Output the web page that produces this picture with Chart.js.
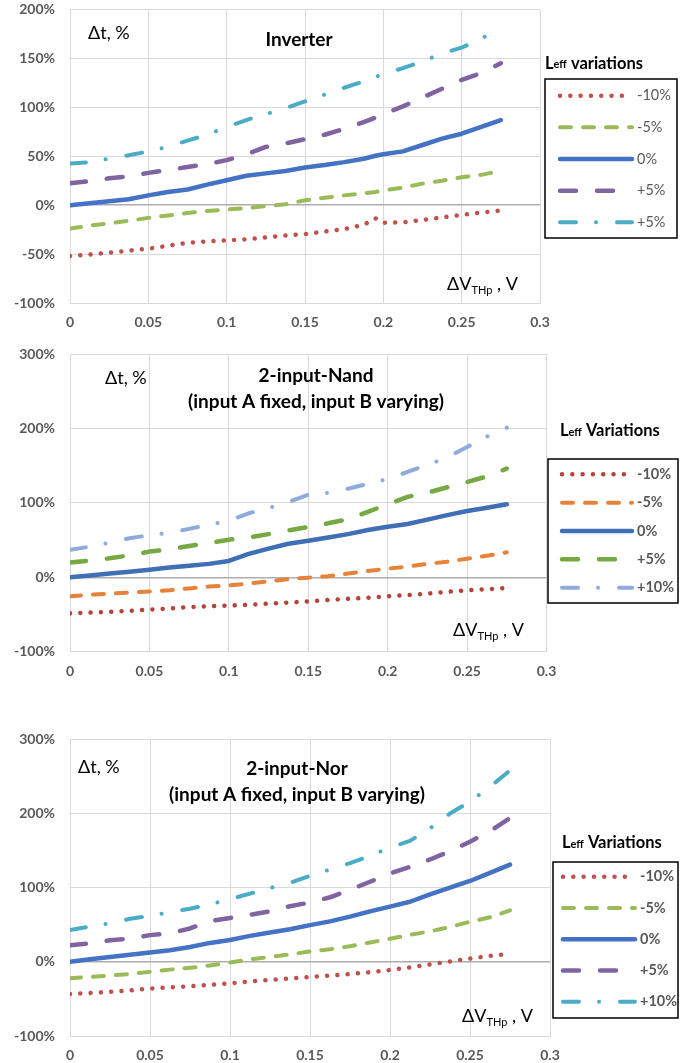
<!DOCTYPE html>
<html>
<head>
<meta charset="utf-8">
<title>Delay variation vs threshold shift</title>
<script src="https://cdn.jsdelivr.net/npm/chart.js@4"></script>
<style>
  html, body { margin: 0; padding: 0; background: #fff; }
  body { width: 688px; height: 1063px; position: relative; overflow: hidden; }
  canvas { position: absolute; left: 0; }
</style>
</head>
<body>
<canvas id="inv" width="688" height="340" style="top:0px"></canvas>
<canvas id="nand" width="688" height="345" style="top:340px"></canvas>
<canvas id="nor" width="688" height="340" style="top:723px"></canvas>

<script>
/* ── data ── */
const X_TICKS       = [0, 0.05, 0.1, 0.15, 0.2, 0.25, 0.3];
const X_TICK_LABELS = ["0", "0.05", "0.1", "0.15", "0.2", "0.25", "0.3"];

const INV_Y_TICKS  = [-100, -50, 0, 50, 100, 150, 200];
const GATE_Y_TICKS = [-100, 0, 100, 200, 300];

// ΔV_THp sample points (V)
const INV_X = [0, 0.0125, 0.025, 0.0375, 0.05, 0.0625, 0.075, 0.0875, 0.1, 0.1125, 0.125, 0.1375,
               0.15, 0.1625, 0.175, 0.1875, 0.195, 0.2, 0.2125, 0.225, 0.2375, 0.25, 0.2625, 0.275];
const GATE_X = [0, 0.0125, 0.025, 0.0375, 0.05, 0.0625, 0.075, 0.0875, 0.1, 0.1125, 0.125, 0.1375,
                0.15, 0.1625, 0.175, 0.1875, 0.2, 0.2125, 0.225, 0.2375, 0.25, 0.2625, 0.275];

// Inverter, Δt %
const INV_M10 = [-52, -50.5, -48.5, -46.5, -44.5, -41.5, -38.5, -37, -36, -35, -33, -31,
                 -29.5, -27, -24.5, -20, -13.5, -18, -17.5, -15, -12.5, -10, -7.5, -5.5];
const INV_M5  = [-24, -21, -18.5, -16, -13, -10.5, -8, -6, -4.5, -3, -1, 1,
                 5, 7.5, 10, 12, 13.5, 15, 18, 22, 25, 28.5, 31, 35];
const INV_0   = [0, 2, 4, 6, 10, 13.5, 16, 21, 25.5, 30, 32.5, 35,
                 38.5, 41, 44, 47.5, 50.5, 52, 55, 61.5, 68, 73, 80, 87];
const INV_P5  = [22.5, 24.5, 27.5, 29.5, 33, 36, 39, 42, 46, 52, 59.5, 63,
                 67.5, 72, 78, 85, 89.5, 93, 101, 110, 119, 128, 135, 145];
const INV_P10 = [42.5, 44, 47.5, 51, 55, 59.5, 66, 72, 80, 87, 93, 99,
                 106, 113, 120, 126.5, 131, 134, 140, 147, 155, 161, 170, 182];

// 2-input NAND, Δt %
const NAND_M10 = [-48.5, -47.5, -46.5, -45, -43.5, -42, -40, -39, -38, -37, -35.5, -34,
                  -32.5, -30.5, -29, -27.5, -25.5, -24, -22, -19.5, -17.5, -16, -14.5];
const NAND_M5  = [-25.5, -23.5, -22, -20.5, -19, -17.5, -15, -12.5, -11, -8.5, -5.5, -2.5,
                  -0.5, 1.5, 5, 8.5, 11.5, 14.5, 18, 21, 25, 29, 33.5];
const NAND_0   = [0, 2.5, 5, 7.5, 10, 13, 15.5, 18, 22, 31.5, 38.5, 45,
                  49, 53.5, 58, 63.5, 68, 71.5, 77.5, 83.5, 89, 93.5, 98];
const NAND_P5  = [20, 22.5, 25.5, 29.5, 34.5, 37.5, 42, 46, 50.5, 53.5, 58, 63,
                  67.5, 72.5, 78, 88, 98, 108, 113.5, 121, 128, 135.5, 146];
const NAND_P10 = [37, 41, 46.5, 52.5, 56.5, 59.5, 65, 70.5, 76, 86, 93, 101,
                  111, 113.5, 119, 125.5, 132, 141.5, 151, 161, 175, 189, 201];

// 2-input NOR, Δt %
const NOR_M10 = [-43.5, -42, -40.5, -38.5, -36, -34.5, -33, -31, -29, -26.5, -24.5, -22.5,
                 -20.5, -18.5, -16.5, -14, -11, -7.5, -3.5, 0.5, 4.5, 8, 11];
const NOR_M5  = [-22, -20.5, -18.5, -16.5, -13.5, -10.5, -8, -5, -1, 3.5, 6.5, 10,
                 14, 17, 21, 26, 31, 36.5, 41, 47, 54, 60, 69.5];
const NOR_0   = [0, 3.5, 6.5, 9.5, 12.5, 15.5, 20, 25.5, 29.5, 35, 39.5, 44,
                 49.5, 54.5, 61, 68, 74.5, 81, 91, 100, 109, 120, 131];
const NOR_P5  = [22.5, 25, 29, 31.5, 36, 38.5, 45, 55, 59, 63.5, 68, 75,
                 80, 87, 97, 108, 119, 128, 138, 149, 162, 176, 194];
const NOR_P10 = [43, 47.5, 52, 58, 62, 67, 71.5, 77.5, 84.5, 92, 99.5, 106.5,
                 116, 124.5, 133, 143, 154, 163, 180, 200, 216, 236, 258];

/* ── styles ── */
const FONT = "Lato, 'Open Sans', sans-serif";
const DOT   = { borderWidth: 4.5, borderDash: [0.01, 10.3] };
const SHORT = { borderWidth: 4,   borderDash: [11, 12] };
const SOLID = { borderWidth: 4.5, borderDash: [] };
const LONG  = { borderWidth: 4.5, borderDash: [16, 21] };
const DDOT  = { borderWidth: 4,   borderDash: [16, 20, 0.01, 21] };

/* ── text + legend drawn on top of each chart ── */
const notesPlugin = {
  id: "notes",
  afterDraw(chart, args, o) {
    const ctx = chart.ctx;
    ctx.save();

    // Δt, %
    ctx.fillStyle = "#000";
    ctx.textBaseline = "middle";
    ctx.textAlign = "left";
    ctx.font = "18px " + FONT;
    ctx.fillText("\u0394t, %", o.dt[0], o.dt[1]);

    // title
    ctx.font = "bold 19px " + FONT;
    ctx.textAlign = "center";
    o.title.forEach((line, i) => ctx.fillText(line, o.titleX, o.titleY + i * 26));

    // x axis label  ΔV_THp , V
    ctx.textAlign = "left";
    ctx.textBaseline = "alphabetic";
    runs(ctx, o.xLab[0], o.xLab[1], [
      ["\u0394V", "18px " + FONT, 0],
      ["THp", "11px " + FONT, 4],
      [" , V", "18px " + FONT, 0],
    ]);

    // legend title  Leff variations
    ctx.textBaseline = "middle";
    runs(ctx, o.lgTitle[0], o.lgTitle[1], [
      ["L", "bold 16.5px " + FONT, 0],
      ["eff", "bold 11px " + FONT, 1],
      [" " + o.lgWord, "bold 16.5px " + FONT, 0],
    ]);

    // legend box
    const [bx1, by1, bx2, by2] = o.box;
    ctx.strokeStyle = "#000";
    ctx.lineWidth = 1.5;
    ctx.setLineDash([]);
    ctx.strokeRect(bx1, by1, bx2 - bx1, by2 - by1);

    chart.data.datasets.forEach((ds, i) => {
      const y = o.rowY + i * o.rowGap;
      ctx.save();
      ctx.strokeStyle = ds.borderColor;
      ctx.lineWidth = ds.borderWidth;
      ctx.lineCap = "round";
      ctx.setLineDash(ds.borderDash);
      ctx.beginPath();
      ctx.moveTo(o.lineX[0], y);
      ctx.lineTo(o.lineX[1], y);
      ctx.stroke();
      ctx.restore();

      ctx.fillStyle = "#595959";
      ctx.font = (o.lgBold ? "bold " : "") + "14.5px " + FONT;
      ctx.textAlign = "left";
      ctx.textBaseline = "middle";
      ctx.fillText(ds.label, o.textX, y);
    });

    ctx.restore();
  },
};

function runs(ctx, x, y, parts) {
  parts.forEach(([text, font, dy]) => {
    ctx.font = font;
    ctx.fillText(text, x, y + dy);
    x += ctx.measureText(text).width;
  });
}

/* ── chart builder ── */
function makeChart(id, c) {
  const canvas = document.getElementById(id);
  const H = canvas.height;

  return new Chart(canvas, {
    type: "line",
    data: {
      labels: c.x,
      datasets: c.series.map(([label, data, color, style]) => ({
        label,
        data,
        borderColor: color,
        backgroundColor: color,
        borderWidth: style.borderWidth,
        borderDash: style.borderDash,
        borderCapStyle: "round",
        borderJoinStyle: "round",
        pointRadius: 0,
        pointHoverRadius: 0,
        tension: 0,
        fill: false,
      })),
    },
    options: {
      responsive: false,
      animation: false,
      devicePixelRatio: 1,
      layout: { padding: { top: c.plotTop, right: 688 - c.plotRight, left: 0, bottom: 0 } },
      plugins: {
        legend: { display: false },
        tooltip: { enabled: false },
        notes: c.notes,
      },
      scales: {
        x: {
          type: "linear",
          min: 0,
          max: 0.3,
          afterBuildTicks: (s) => { s.ticks = X_TICKS.map((v) => ({ value: v })); },
          afterFit: (s) => { s.height = H - c.plotBottom; },
          grid: { color: "#D9D9D9", lineWidth: 1, drawTicks: false },
          border: { color: "#D9D9D9", width: 1 },
          ticks: {
            padding: 11,
            color: "#595959",
            font: { family: FONT, size: 14, weight: "bold" },
            maxRotation: 0,
            callback: (v, i) => X_TICK_LABELS[i],
          },
        },
        y: {
          min: c.yTicks[0],
          max: c.yTicks[c.yTicks.length - 1],
          afterBuildTicks: (s) => { s.ticks = c.yTicks.map((v) => ({ value: v })); },
          afterFit: (s) => {
            s.width = 70;
            s.paddingTop = 0;      // keep the plot top where the layout padding puts it
            s.paddingBottom = 0;
          },
          grid: {
            drawTicks: false,
            color: (ctx) => (ctx.tick && ctx.tick.value === 0 ? "#ADADAD" : "#D9D9D9"),
            lineWidth: (ctx) => (ctx.tick && ctx.tick.value === 0 ? 1.5 : 1),
          },
          border: { color: "#D9D9D9", width: 1 },
          ticks: {
            padding: 15,
            color: "#595959",
            font: { family: FONT, size: 14, weight: "bold" },
            callback: (v) => v + "%",
          },
        },
      },
    },
    plugins: [notesPlugin],
  });
}

/* ── three panels ── */
makeChart("inv", {
  x: INV_X,
  yTicks: INV_Y_TICKS,
  plotTop: 9.5, plotBottom: 303, plotRight: 540,
  series: [
    ["-10%", INV_M10, "#C0504D", DOT],
    ["-5%",  INV_M5,  "#9BBB59", SHORT],
    ["0%",   INV_0,   "#4472C4", SOLID],
    ["+5%",  INV_P5,  "#8064A2", LONG],
    ["+5%",  INV_P10, "#4BACC6", DDOT],
  ],
  notes: {
    dt: [88, 33], title: ["Inverter"], titleX: 299, titleY: 40,
    xLab: [447, 290], lgTitle: [545, 63.5], lgWord: "variations", lgBold: false,
    box: [545, 79, 677, 238], rowY: 95.7, rowGap: 31.65, lineX: [560, 632], textX: 637,
  },
});

makeChart("nand", {
  x: GATE_X,
  yTicks: GATE_Y_TICKS,
  plotTop: 14, plotBottom: 311.7, plotRight: 546.5,
  series: [
    ["-10%", NAND_M10, "#B5423B", DOT],
    ["-5%",  NAND_M5,  "#E6823A", SHORT],
    ["0%",   NAND_0,   "#3F6FB5", SOLID],
    ["+5%",  NAND_P5,  "#76A844", LONG],
    ["+10%", NAND_P10, "#8FAADC", DDOT],
  ],
  notes: {
    dt: [105, 38], title: ["2-input-Nand", "(input A fixed, input B varying)"], titleX: 316, titleY: 36,
    xLab: [453, 296], lgTitle: [560, 91], lgWord: "Variations", lgBold: true,
    box: [548, 119, 678, 263], rowY: 134.3, rowGap: 28.35, lineX: [562, 632], textX: 637,
  },
});

makeChart("nor", {
  x: GATE_X,
  yTicks: GATE_Y_TICKS,
  plotTop: 16.3, plotBottom: 313, plotRight: 550,
  series: [
    ["-10%", NOR_M10, "#C0504D", DOT],
    ["-5%",  NOR_M5,  "#9BBB59", SHORT],
    ["0%",   NOR_0,   "#4472C4", SOLID],
    ["+5%",  NOR_P5,  "#8064A2", LONG],
    ["+10%", NOR_P10, "#4BACC6", DDOT],
  ],
  notes: {
    dt: [78, 44], title: ["2-input-Nor", "(input A fixed, input B varying)"], titleX: 297, titleY: 46,
    xLab: [462, 299], lgTitle: [562, 120], lgWord: "Variations", lgBold: true,
    box: [553, 139, 678, 295], rowY: 153.7, rowGap: 31.25, lineX: [563, 635], textX: 640,
  },
});
</script>
</body>
</html>
